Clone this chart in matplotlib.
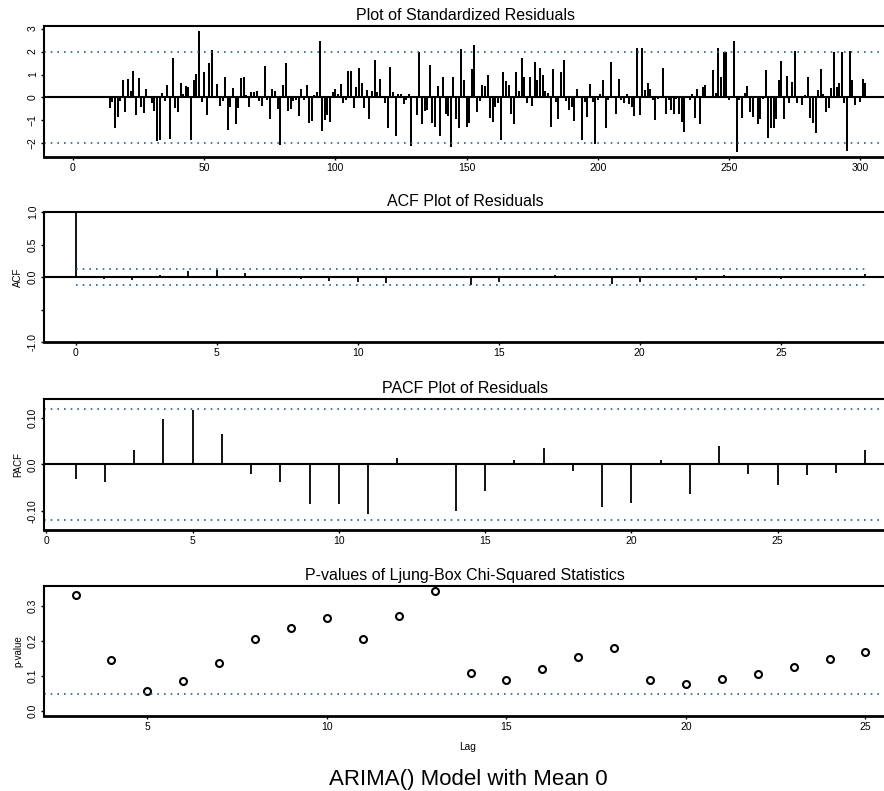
import matplotlib
matplotlib.use("Agg")
import matplotlib.pyplot as plt
import numpy as np

plt.rcParams["font.family"] = ["Liberation Sans", "DejaVu Sans"]

# standardized residuals, t = 14 .. 302 (series starts at 1)
resid_start = 14
resid_first = [
    -0.45, -0.2, -1.35, -0.87, -0.15, 0.75, -0.65, 0.8, 0.3, 1.17,
    -0.75, 0.83, -0.4, -0.68, 0.37, 0.0, -0.25, -0.6, -1.9, -1.87,
    0.2, -0.15, 0.55, -1.8, 1.7, -0.45, -0.62, 0.62, 0.15, 0.5,
    0.45, -1.85, 0.77, 1.02, 2.9, -0.2, 1.13, -0.78, 1.5, 2.07,
    0.05, 0.6, -0.35, -0.15, 0.88, -1.4, -0.42, 0.42, -1.15, -0.45,
    0.85, 0.9, 0.1, -0.42, 0.22, 0.22, 0.3, -0.15, -0.35, 1.35,
    -0.1, -0.95, 0.38, 0.28, -0.5, -2.05, 0.55, 1.5, -0.6, -0.52,
    -0.15, -0.1, -0.8, 0.35, -0.12, 0.53, -1.12, -1.02, 0.12, 0.25,
    2.48, -1.45, -1.0, -0.78, -1.07, 0.22, 0.38, 0.15, 0.6, -0.25,
    -0.12, 1.15, 1.17, -0.45, 0.45, 1.3, 0.62, -0.45, 0.32, -0.95,
    0.3, 1.65, 0.22, 0.8, 0.0, -0.22, -1.35, 1.33, 0.25, -1.68,
    0.15, 0.13, -0.28, -0.1, 0.15, -2.1, 0.05, -0.75, 2.0, -1.15,
    -0.58, -0.55, 1.4, -1.1, -1.28, 0.5, -1.68, 0.9, -0.72, -0.8,
]
resid_second = [
    -2.15, 0.88, -0.92, -1.35, 2.1, 0.76, -1.28, -1.1, 1.24, 2.3,
    -0.63, -0.15, 0.54, 0.5, 0.96, -0.88, -1.07, -0.4, -0.26, -1.87,
    1.12, 0.73, 0.54, -0.7, -1.14, 1.1, 0.28, 1.74, 0.88, -0.23,
    0.88, -0.38, 1.55, 0.76, 1.27, 0.96, 0.28, 0.18, -1.3, 1.24,
    -0.19, -0.92, 1.12, 1.63, -0.15, -0.55, -0.41, -1.02, 0.36, 0.0,
    -1.87, -0.19, -0.85, 0.58, -0.19, -2.01, -0.12, 0.15, 0.76, -1.35,
    -0.12, 1.55, 0.0, -0.73, 0.82, -0.12, -0.26, 0.15, -0.29, -0.41,
    -0.8, 2.15, -0.77, 2.15, 0.32, 0.61, 0.39, -0.12, -0.99, -0.07,
    0.03, 1.27, -0.73, -0.12, -0.55, -0.7, -0.07, -0.7, -1.07, -1.5,
    0.0, -0.12, 0.15, -0.88, 0.39, -1.14, 0.47, 0.54, 0.0, -0.04,
    1.2, 0.18, 2.15, 0.9, 2.0, 2.0, -0.12, 0.03, 2.44, -2.38,
    -0.09, -0.88, 0.18, 0.5, -0.63, -0.85, -0.04, -1.14, -0.95, -0.07,
    1.2, -1.77, -1.35, -1.35, -0.95, 0.76, 1.6, -0.92, 0.95, -0.26,
    0.69, 2.04, -0.26, 0.03, -0.31, 0.1, 0.9, -0.88, -1.1, -1.55,
    0.32, 1.24, 0.15, -0.63, -0.48, 0.42, 2.0, 0.44, 0.61, 2.0,
    -0.26, -2.31, 2.04, 0.76, -0.34, 0.03, -0.19, 0.8, 0.61,
]
resid_series_end = 302

acf_lags = list(range(0, 29))
acf_vals = [
    1.0, -0.03, -0.04, 0.03, 0.09, 0.11, 0.06, -0.01, -0.03, -0.06,
    -0.07, -0.09, -0.01, -0.01, -0.12, -0.08, -0.02, 0.03, -0.02, -0.10,
    -0.07, 0.02, -0.04, 0.03, -0.02, -0.03, -0.01, -0.01, 0.05,
]

pacf_lags = list(range(1, 29))
pacf_vals = [
    -0.031, -0.037, 0.031, 0.097, 0.117, 0.065, -0.020, -0.038, -0.085, -0.085,
    -0.106, 0.013, 0.003, -0.099, -0.057, 0.009, 0.036, -0.013, -0.090, -0.082,
    0.010, -0.063, 0.040, -0.021, -0.044, -0.022, -0.019, 0.032,
]

lb_lags = list(range(3, 26))
lb_pvals = [
    0.333, 0.146, 0.058, 0.085, 0.138, 0.207, 0.237, 0.266, 0.207, 0.273,
    0.344, 0.108, 0.088, 0.121, 0.154, 0.182, 0.088, 0.077, 0.093, 0.106,
    0.127, 0.150, 0.169,
]
lb_level = 0.05

W, H = 884, 791
DOT = "#2b5f9e"
DOTSTYLE = (0, (1, 3))
TICK_FS = 7.5
TITLE_FS = 11.5


def add_panel(fig, top, bottom, left=44, right=897):
    # panel box given in pixels; right edge runs past the figure like the original
    ax = fig.add_axes([left / W, 1 - bottom / H, (right - left) / W, (bottom - top) / H])
    for side in ["top", "left", "right"]:
        ax.spines[side].set_linewidth(1.5)
    ax.spines["bottom"].set_linewidth(2.0)
    ax.tick_params(direction="out", length=2.5, width=1, labelsize=TICK_FS, pad=2)
    return ax


def ext(lo, hi, frac=0.04):
    d = (hi - lo) * frac
    return lo - d, hi + d


def fix_ylabels(ax):
    for lab in ax.get_yticklabels():
        lab.set_rotation(90)
        lab.set_va("center")


fig = plt.figure(figsize=(W / 100, H / 100), dpi=100)

# 1. standardized residuals
resid = np.array(resid_first + resid_second)
t = np.arange(resid_start, resid_start + len(resid))
ax1 = add_panel(fig, 26, 157)
ax1.vlines(t, 0, resid, color="black", linewidth=1.45)
ax1.axhline(0, color="black", linewidth=1.5)
ax1.axhline(2, color=DOT, linewidth=1.2, linestyle=DOTSTYLE)
ax1.axhline(-2, color=DOT, linewidth=1.2, linestyle=DOTSTYLE)
ax1.set_xlim(*ext(1, resid_series_end))
ax1.set_ylim(*ext(resid.min(), resid.max()))
ax1.set_xticks([0, 50, 100, 150, 200, 250, 300])
ax1.set_yticks([-2, -1, 0, 1, 2, 3])
fix_ylabels(ax1)
ax1.set_title("Plot of Standardized Residuals", fontsize=TITLE_FS, pad=4, x=0.494)

# 2. ACF
n_obs = len(resid)
acf_arr = np.array(acf_vals)
bound = [2 * np.sqrt((1 + 2 * np.sum(acf_arr[1:k] ** 2)) / n_obs) for k in range(len(acf_lags))]
ax2 = add_panel(fig, 212, 342)
ax2.vlines(acf_lags, 0, acf_vals, color="black", linewidth=1.3)
ax2.axhline(0, color="black", linewidth=1.5)
ax2.plot(acf_lags, bound, color=DOT, linewidth=1.2, linestyle=DOTSTYLE, drawstyle="steps-mid")
ax2.plot(acf_lags, [-b for b in bound], color=DOT, linewidth=1.2, linestyle=DOTSTYLE, drawstyle="steps-mid")
ax2.set_xlim(*ext(min(acf_lags), max(acf_lags)))
ax2.set_ylim(-1, 1)
ax2.set_xticks([0, 5, 10, 15, 20, 25])
ax2.set_yticks([-1.0, -0.5, 0.0, 0.5, 1.0])
ax2.set_yticklabels(["-1.0", "", "0.0", "0.5", "1.0"])
fix_ylabels(ax2)
ax2.set_ylabel("ACF", fontsize=7, va="center")
ax2.yaxis.set_label_coords(-26 / 853, 0.5)
ax2.set_title("ACF Plot of Residuals", fontsize=TITLE_FS, pad=4, x=0.494)

# 3. PACF
pacf_bound = 2 / np.sqrt(n_obs)
ax3 = add_panel(fig, 399, 530)
ax3.vlines(pacf_lags, 0, pacf_vals, color="black", linewidth=1.3)
ax3.axhline(0, color="black", linewidth=1.5)
ax3.axhline(pacf_bound, color=DOT, linewidth=1.2, linestyle=DOTSTYLE)
ax3.axhline(-pacf_bound, color=DOT, linewidth=1.2, linestyle=DOTSTYLE)
ax3.set_xlim(*ext(min(pacf_lags), max(pacf_lags)))
ax3.set_ylim(-0.14, 0.14)
ax3.set_xticks([0, 5, 10, 15, 20, 25])
ax3.set_yticks([-0.1, 0.0, 0.1])
ax3.set_yticklabels(["-0.10", "0.0", "0.10"])
fix_ylabels(ax3)
ax3.set_ylabel("PACF", fontsize=7, va="center")
ax3.yaxis.set_label_coords(-26 / 853, 0.5)
ax3.set_title("PACF Plot of Residuals", fontsize=TITLE_FS, pad=4, x=0.494)

# 4. Ljung-Box p-values
ax4 = add_panel(fig, 586, 716)
ax4.plot(lb_lags, lb_pvals, linestyle="none", marker="o", markersize=5,
         markerfacecolor="none", markeredgecolor="black", markeredgewidth=1.5)
ax4.axhline(lb_level, color=DOT, linewidth=1.2, linestyle=DOTSTYLE)
ax4.set_xlim(*ext(min(lb_lags), max(lb_lags)))
ax4.set_ylim(*ext(0, max(lb_pvals)))
ax4.set_xticks([5, 10, 15, 20, 25])
ax4.set_yticks([0.0, 0.1, 0.2, 0.3])
ax4.set_yticklabels(["0.0", "0.1", "0.2", "0.3"])
fix_ylabels(ax4)
ax4.set_ylabel("p-value", fontsize=7, va="center")
ax4.yaxis.set_label_coords(-26 / 853, 0.5)
ax4.set_xlabel("Lag", fontsize=7.3, va="center")
ax4.xaxis.set_label_coords(0.497, -31 / 130)
ax4.set_title("P-values of Ljung-Box Chi-Squared Statistics", fontsize=TITLE_FS, pad=4, x=0.494)

fig.text(468 / W, 1 - 780 / H, "ARIMA() Model with Mean 0", ha="center", va="center", fontsize=16)

fig.savefig("out.png", dpi=100)
